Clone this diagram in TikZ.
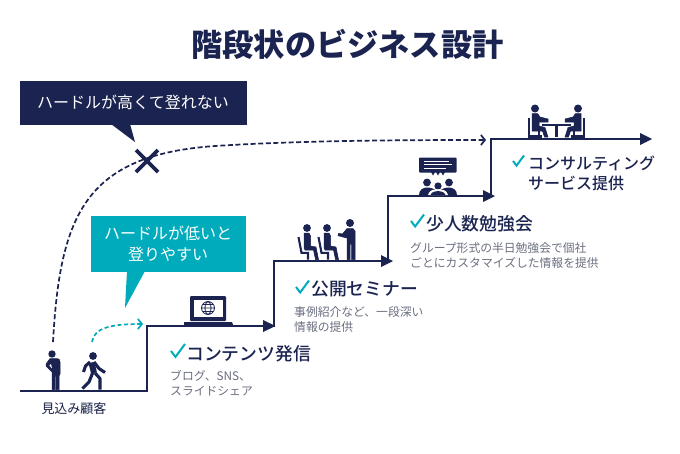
\documentclass[tikz,border=0pt]{standalone}
\usepackage{fontspec}
\setmainfont{Noto Sans CJK JP}
\newfontfamily\medfont{Noto Sans CJK JP Medium}
\usetikzlibrary{arrows.meta}
\definecolor{navy}{HTML}{1B2350}
\definecolor{teal2}{HTML}{00ACBB}
\definecolor{grayt}{HTML}{6B6F80}
\tikzset{
  x=1pt,y=-1pt,
  stairline/.style={draw=navy,line width=2.7pt,line join=miter},
  headtxt/.style={anchor=west,inner sep=0,text=navy,font=\medfont\fontsize{17.8}{22}\selectfont},
  desc/.style={anchor=west,inner sep=0,text=grayt,font=\fontsize{11.8}{15}\selectfont},
  calltxt/.style={inner sep=0,text=white,font=\fontsize{16}{21}\selectfont},
  checkm/.style={draw=teal2,line width=2pt,line join=miter},
  ico/.style={fill=navy,draw=navy,line width=.5pt},
  limb/.style={draw=navy,line width=3.1pt,line join=round},
  thinlimb/.style={draw=navy,line width=2.1pt,line join=miter},
}
\newcommand{\chk}[3]{\draw[checkm] ({#1},{#2}) -- ({#1+#3*0.32},{#2+#3*0.42}) -- ({#1+#3},{#2-#3*0.5});}
\begin{document}
\begin{tikzpicture}
\useasboundingbox (0,0) rectangle (680,453);
\fill[white] (0,0) rectangle (680,453);
% title
\node[inner sep=0,text=navy,font=\bfseries\fontsize{31.2}{36}\selectfont] (title) at (347.5,44) {階段状のビジネス設計};
% stairs
\coordinate (s0) at (20,391);
\coordinate (s1) at (147,391);
\coordinate (s2) at (147,326);
\coordinate (s3) at (270,326);
\coordinate (s4) at (274,327);
\coordinate (s5) at (274,261);
\coordinate (s6) at (388,261);
\coordinate (s7) at (388,262);
\coordinate (s8) at (388,196);
\coordinate (s9) at (490,196);
\coordinate (s10) at (491,197);
\coordinate (s11) at (491,139);
\coordinate (s12) at (648,139);
\draw[stairline] (s0) -- (s1) -- (s2) -- (s3);
\draw[stairline] (s4) -- (s5) -- (s6);
\draw[stairline] (s7) -- (s8) -- (s9);
\draw[stairline] (s10) -- (s11) -- (s12);
\fill[navy] (263,320) -- (275.5,326) -- (263,332) -- cycle;
\fill[navy] (381,255) -- (393,261) -- (381,267) -- cycle;
\fill[navy] (483,190) -- (495,196) -- (483,202) -- cycle;
\fill[navy] (640,133) -- (652,139) -- (640,145) -- cycle;
% callouts
\fill[navy] (20,81) rectangle (247,125);
\fill[navy] (111,124) -- (130,124) -- (135,142) -- cycle;
\node[calltxt] (c1) at (133,102) {ハードルが高くて登れない};
\fill[teal2] (91,216) rectangle (246,272);
\fill[teal2] (127,271) -- (145,271) -- (125,308) -- cycle;
\node[calltxt] (c2a) at (168,233) {ハードルが低いと};
\node[calltxt] (c2b) at (168,254) {登りやすい};
% dashed curves
\coordinate (d0) at (53,342);
\coordinate (d1) at (486,140);
\coordinate (e0) at (92,342);
\coordinate (e1) at (143,324);
\draw[navy,line width=1.7pt,dash pattern=on 5pt off 2.6pt,-{Straight Barb[length=4pt,width=10pt]}]
  (d0) .. controls (60,215) and (85,155) .. (215,146) .. controls (300,140.5) and (400,140) .. (d1);
\draw[teal2,line width=1.7pt,dash pattern=on 4pt off 2.6pt,-{Straight Barb[length=4pt,width=10pt]}]
  (e0) .. controls (94,328) and (110,324) .. (e1);
% X
\draw[navy,line width=3.8pt] (136,150) -- (158,172) (158,150) -- (136,172);
% texts
\chk{171}{351}{14}
\node[headtxt] (t1) at (186,354) {コンテンツ発信};
\node[desc] (t1a) at (170,376) {ブログ、SNS、};
\node[desc] (t1b) at (170,391) {スライドシェア};
\chk{296}{287}{13}
\node[headtxt] (t2) at (311,289) {公開セミナー};
\node[desc] (t2a) at (294,312) {事例紹介など、一段深い};
\node[desc] (t2b) at (294,327) {情報の提供};
\chk{411}{221}{13}
\node[headtxt] (t3) at (426,224) {少人数勉強会};
\node[desc] (t3a) at (410,248) {グループ形式の半日勉強会で個社};
\node[desc] (t3b) at (410,263) {ごとにカスタマイズした情報を提供};
\chk{513}{161}{11}
\node[anchor=west,inner sep=0,text=navy,font=\medfont\fontsize{16}{20}\selectfont] (t4a) at (528,163) {コンサルティング};
\node[anchor=west,inner sep=0,text=navy,font=\medfont\fontsize{16}{20}\selectfont] (t4b) at (528,183) {サービス提供};
\node[inner sep=0,text=navy!85!black,font=\fontsize{13}{15}\selectfont] (t0) at (74,409) {見込み顧客};
% standing person
\fill[navy] (52,354) circle (3.7);
\fill[ico] (50,358.5) -- (57,358.5) .. controls (59.5,359) .. (60,362) -- (60,374) -- (59,376) -- (59,389.5) -- (56.2,389.5) -- (56.2,376) -- (55.2,376) -- (55.2,389.5) -- (52,389.5) -- (52,372) -- (46,366) -- (46,364) -- cycle;
\fill[white] (51,364) -- (49.3,365.5) -- (52,368.3) -- cycle;
% walking person
\fill[navy] (93,356) circle (3.9);
\draw[navy,line width=6pt] (91.5,362.5) -- (94,373);
\draw[limb] (90,362) -- (85.5,366) -- (83.5,372);
\draw[limb] (94,362) -- (99,368.5) -- (105,372.5);
\draw[limb] (93,372) -- (89,382) -- (82.5,388.5);
\draw[limb] (95,373) -- (100,378.5) -- (100,389.5);
% laptop
\fill[navy] (190,296) [rounded corners=1pt] rectangle (226,321);
\fill[white] (193.5,299.5) rectangle (222.5,317);
\fill[navy] (184,322) -- (232,322) -- (233,325) -- (184,325) -- cycle;
\draw[navy,line width=.8pt] (208,308) circle (6.5) (208,308) ellipse (3 and 6.5) (201.5,308) -- (214.5,308) (202.5,304.5) -- (213.5,304.5) (202.5,311.5) -- (213.5,311.5);
% seated group
\foreach \dx in {0,20}{
  \fill[navy] ({307+\dx},228) circle (3.9);
  \fill[ico] ({304+\dx},233) -- ({309+\dx},233) -- ({310.5+\dx},236) -- ({310.5+\dx},246) -- ({316+\dx},247) -- ({318.5+\dx},259.5) -- ({315.5+\dx},259.5) -- ({313.5+\dx},250) -- ({305+\dx},250) -- ({304+\dx},248) -- cycle;
  \draw[thinlimb] ({298.5+\dx},237) -- ({301.5+\dx},252.8) -- ({308+\dx},252.8) -- ({308+\dx},259.5);
}
\fill[navy] (350,223) circle (4);
\fill[ico] (347,228.5) -- (353,228.5) -- (355,231) -- (355,259.5) -- (351.6,259.5) -- (351.6,244) -- (350.2,244) -- (350.2,259.5) -- (347,259.5) -- (347,238) -- (343,237) -- (338,235.7) -- (338.6,233.3) -- (342.5,234) -- cycle;
% meeting
\fill[navy] (419,157.5) [rounded corners=.8pt] rectangle (456.5,172.5);
\fill[navy] (431,172) -- (435,172) -- (433,175.5) -- cycle;
\fill[navy] (436,172) -- (440,172) -- (438,175.5) -- cycle;
\fill[navy] (441,172) -- (445,172) -- (443,175.5) -- cycle;
\draw[white,line width=.9pt] (424,161.5) -- (449,161.5) (424,164.8) -- (452,164.8) (424,168) -- (446,168);
\fill[navy] (427,182.5) circle (3.9);
\fill[navy] (449,182.5) circle (3.9);
\fill[navy] (438,186) circle (3.6);
\fill[navy] (419,195) .. controls (419,190) and (423,187.5) .. (427,187.5) .. controls (431,187.5) and (435,189) .. (438,192) .. controls (441,189) and (445,187.5) .. (449,187.5) .. controls (453,187.5) and (457,190) .. (457,195) -- cycle;
\fill[white] (428,195) .. controls (429,190) and (434,189.3) .. (438,189.3) .. controls (442,189.3) and (447,190) .. (448,195) -- cycle;
\fill[navy] (430.5,195) .. controls (431.5,192) and (435,191) .. (438,191) .. controls (441,191) and (444.5,192) .. (445.5,195) -- cycle;
% consultation
\fill[navy] (535,108.5) circle (4);
\fill[navy] (578,108.5) circle (4);
\foreach \sgn/\c in {1/535,-1/578}{
  \fill[ico] ({\c-3*\sgn},113.5) -- ({\c+2.5*\sgn},113.5) -- ({\c+5*\sgn},117) -- ({\c+13*\sgn},119) -- ({\c+13*\sgn},122) -- ({\c+4*\sgn},122) -- ({\c+4*\sgn},126) -- ({\c+10*\sgn},127.5) -- ({\c+13*\sgn},137) -- ({\c+9.5*\sgn},137) -- ({\c+7.5*\sgn},131) -- ({\c-3*\sgn},131) -- cycle;
  \draw[thinlimb] ({\c-5.8*\sgn},118) -- ({\c-5.8*\sgn},136.5) -- ({\c+7*\sgn},136.5) ({\c+4*\sgn},131) -- ({\c+4*\sgn},137);
}
\draw[navy,line width=2.1pt] (542,125) -- (571,125) (556.5,125) -- (556.5,137);
\end{tikzpicture}
\end{document}
